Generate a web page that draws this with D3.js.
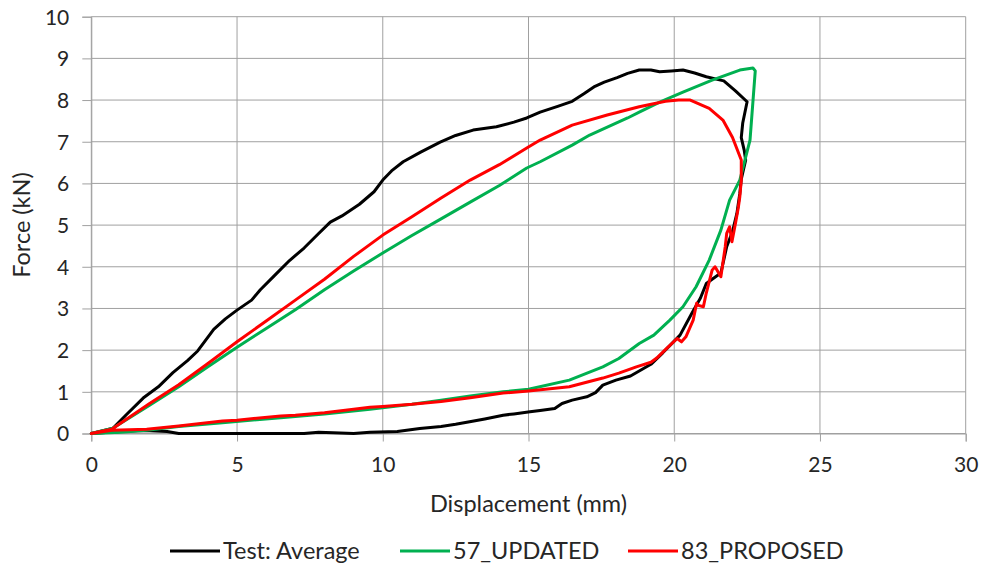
<!DOCTYPE html>
<html>
<head>
<meta charset="utf-8">
<script src="https://cdn.jsdelivr.net/npm/d3@7"></script>
<style>
  html, body { margin: 0; padding: 0; background: #fff; }
  svg { display: block; }
  text { font-family: Lato, "Open Sans", sans-serif; fill: #262626; }
</style>
</head>
<body>
<svg id="chart" width="983" height="568"></svg>
<script>
// Force–displacement hysteresis loops: [displacement mm, force kN]
const testAverage = [
  [0,0],[0.75,0.13],[1.2,0.45],[1.78,0.85],[2.3,1.12],[2.8,1.46],[3.3,1.75],[3.65,1.98],
  [4.2,2.5],[4.6,2.75],[5.0,2.96],[5.5,3.2],[5.8,3.45],[6.3,3.8],[6.8,4.15],[7.3,4.45],
  [7.8,4.8],[8.2,5.07],[8.6,5.22],[9.2,5.5],[9.7,5.8],[10.0,6.08],[10.3,6.3],[10.7,6.52],
  [11.3,6.75],[11.97,6.99],[12.5,7.15],[13.1,7.28],[13.9,7.36],[14.5,7.47],[14.94,7.57],
  [15.4,7.71],[16.0,7.85],[16.5,7.97],[16.9,8.15],[17.28,8.33],[17.6,8.43],[18.04,8.54],
  [18.4,8.64],[18.8,8.72],[19.2,8.72],[19.5,8.68],[19.9,8.7],[20.3,8.72],[20.7,8.65],
  [21.1,8.56],[21.7,8.46],[22.1,8.22],[22.5,7.96],[22.35,7.45],[22.3,7.1],[22.4,6.8],
  [22.45,6.56],[22.3,6.1],[22.25,5.76],[22.15,5.28],[22.0,4.85],[21.8,4.48],[21.6,3.85],
  [21.3,3.7],[21.1,3.6],[20.9,3.25],[20.6,2.88],[20.2,2.36],[19.6,1.93],[19.2,1.66],
  [18.5,1.38],[18.0,1.28],[17.55,1.16],[17.3,0.98],[17.0,0.88],[16.5,0.8],[16.15,0.72],
  [15.9,0.6],[15.4,0.55],[15.05,0.52],[14.5,0.47],[14.13,0.44],[13.5,0.35],[12.98,0.28],
  [12.5,0.22],[12.0,0.17],[11.27,0.12],[10.5,0.05],[9.56,0.03],[9.0,0.0],[8.3,0.02],
  [7.8,0.03],[7.3,0.0],[3.0,0.0],[2.6,0.05],[1.8,0.07],[1.0,0.05],[0,0]
];

const updated57 = [
  [0,0],[0.75,0.13],[2,0.68],[3,1.12],[4,1.6],[5,2.07],[6,2.52],[7,2.97],[8,3.45],
  [9,3.9],[10,4.33],[11,4.75],[12,5.15],[13,5.55],[14,5.95],[14.94,6.37],[15.4,6.52],
  [16.5,6.92],[17.1,7.16],[18.4,7.57],[18.8,7.71],[19.5,7.95],[20.3,8.19],[21.3,8.48],
  [22.25,8.72],[22.7,8.77],[22.78,8.7],[22.6,7.04],[22.25,6.08],[21.9,5.6],[21.6,4.88],
  [21.2,4.16],[20.75,3.52],[20.3,3.04],[19.85,2.72],[19.3,2.36],[18.8,2.16],[18.1,1.8],
  [17.55,1.6],[16.4,1.28],[15,1.06],[14.13,1.0],[13,0.9],[12,0.8],[11,0.7],[9.56,0.58],
  [8,0.47],[6.5,0.38],[4.5,0.26],[3,0.17],[1.9,0.08],[1,0.03],[0,0]
];

const proposed83 = [
  [0,0],[0.7,0.1],[2,0.72],[3,1.17],[4,1.68],[5,2.2],[6,2.7],[7,3.2],[8,3.7],[9,4.25],
  [10,4.76],[11,5.2],[12,5.65],[13,6.08],[14,6.45],[14.94,6.85],[15.4,7.04],[16.5,7.4],
  [17.7,7.64],[18.8,7.84],[19.7,7.97],[20.15,8.0],[20.55,8.0],[21.2,7.8],[21.67,7.52],
  [22.0,7.1],[22.3,6.56],[22.3,6.08],[22.25,5.68],[22.2,5.43],[22.1,5.04],[21.98,4.6],
  [21.9,4.96],[21.8,4.8],[21.75,4.48],[21.6,3.76],[21.4,4.0],[21.3,3.92],[21.1,3.37],
  [21.0,3.04],[20.8,3.08],[20.77,3.13],[20.65,2.72],[20.4,2.32],[20.25,2.2],[20.1,2.28],
  [19.75,2.05],[19.4,1.81],[19.2,1.71],[18.7,1.6],[18.1,1.45],[17.55,1.33],[16.4,1.12],
  [15,1.02],[14.13,0.97],[13,0.86],[12,0.77],[11,0.7],[10,0.65],[9.56,0.63],[9,0.58],
  [8,0.5],[7,0.44],[6.5,0.42],[5,0.32],[4.5,0.3],[3,0.18],[1.9,0.1],[0.7,0.08],[0,0]
];

const seriesNames = ["Test: Average", "57_UPDATED", "83_PROPOSED"];
const seriesColors = ["#000000", "#00b050", "#ff0000"];
const xTicks = [0, 5, 10, 15, 20, 25, 30];
const yTicks = [0, 1, 2, 3, 4, 5, 6, 7, 8, 9, 10];
const xTitle = "Displacement (mm)";
const yTitle = "Force (kN)";

const svg = d3.select("#chart");
const plotLeft = 91.3, plotRight = 965.7, plotTop = 16.7, plotBottom = 433.5;

const x = d3.scaleLinear().domain([0, 30]).range([plotLeft, plotRight]);
const y = d3.scaleLinear().domain([0, 10]).range([plotBottom, plotTop]);

const gridColor = "#a0a0a0";

// Gridlines
const grid = svg.append("g");
grid.selectAll("line.h").data(yTicks).join("line")
  .attr("class", "h")
  .attr("x1", plotLeft).attr("x2", plotRight)
  .attr("y1", d => y(d)).attr("y2", d => y(d))
  .attr("stroke", gridColor).attr("stroke-width", 1);
grid.selectAll("line.v").data(xTicks).join("line")
  .attr("class", "v")
  .attr("y1", plotTop).attr("y2", plotBottom)
  .attr("x1", d => x(d)).attr("x2", d => x(d))
  .attr("stroke", gridColor).attr("stroke-width", 1);

// Axes
const xAxis = d3.axisBottom(x).tickValues(xTicks).tickSize(8).tickPadding(16);
const yAxis = d3.axisLeft(y).tickValues(yTicks).tickSize(9).tickPadding(13);

const gx = svg.append("g").attr("transform", `translate(0,${plotBottom})`).call(xAxis);
const gy = svg.append("g").attr("transform", `translate(${plotLeft},0)`).call(yAxis);
[gx, gy].forEach(g => {
  g.select(".domain").attr("stroke", gridColor);
  g.selectAll(".tick line").attr("stroke", gridColor);
  g.selectAll(".tick text")
    .style("font-family", "Lato, sans-serif")
    .style("font-size", "21px")
    .attr("fill", "#262626");
});
gy.selectAll(".tick text").attr("dy", "0.35em");

// Axis titles
svg.append("text")
  .attr("x", (plotLeft + plotRight) / 2).attr("y", 512)
  .attr("text-anchor", "middle")
  .style("font-size", "23.5px")
  .text(xTitle);
svg.append("text")
  .attr("transform", `translate(30,225) rotate(-90)`)
  .attr("text-anchor", "middle")
  .style("font-size", "23.5px")
  .text(yTitle);

// Curves
const line = d3.line().x(d => x(d[0])).y(d => y(d[1]));
const allSeries = [testAverage, updated57, proposed83];
svg.append("g").selectAll("path").data(allSeries).join("path")
  .attr("d", line)
  .attr("fill", "none")
  .attr("stroke", (d, i) => seriesColors[i])
  .attr("stroke-width", 3)
  .attr("stroke-linejoin", "round")
  .attr("stroke-linecap", "round");

// Legend
const legendX = [170, 400, 628];
const lg = svg.append("g");
seriesNames.forEach((name, i) => {
  lg.append("line")
    .attr("x1", legendX[i]).attr("x2", legendX[i] + 50)
    .attr("y1", 551).attr("y2", 551)
    .attr("stroke", seriesColors[i]).attr("stroke-width", 3);
  lg.append("text")
    .attr("x", legendX[i] + 53).attr("y", 551)
    .attr("dy", "0.35em")
    .style("font-size", "23.5px")
    .text(name);
});
</script>
</body>
</html>
